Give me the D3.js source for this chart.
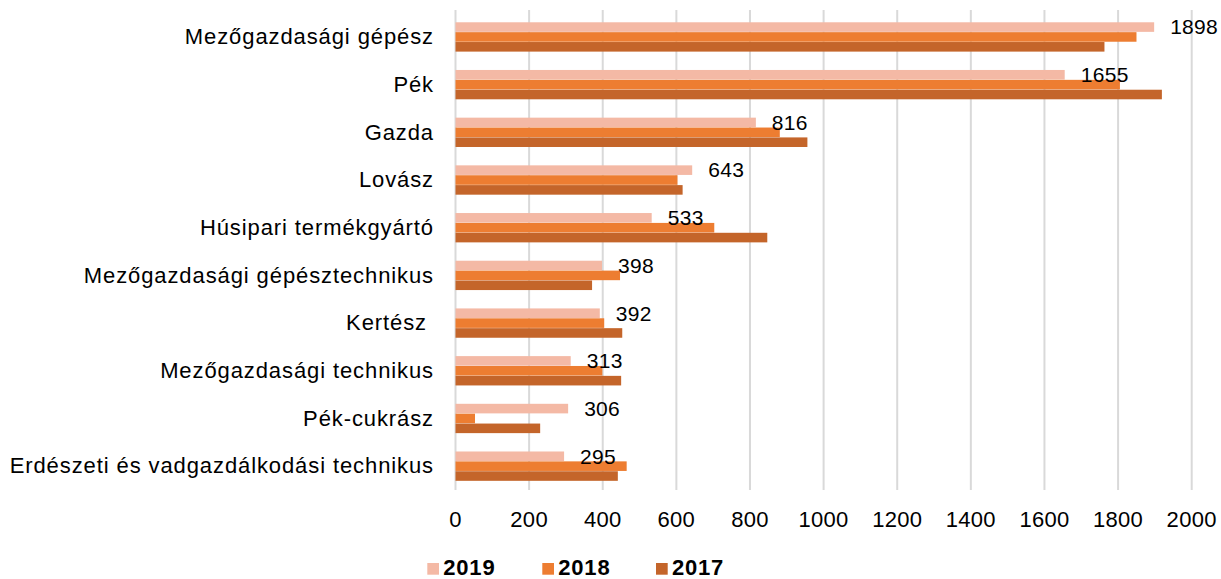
<!DOCTYPE html>
<html><head><meta charset="utf-8">
<script src="https://cdn.jsdelivr.net/npm/d3@7"></script>
<style>
body{margin:0;background:#fff;}
svg text{font-family:"Liberation Sans",Arial,sans-serif;fill:#000;}
</style></head>
<body><svg id="c" width="1221" height="579"></svg>
<script>
const categories = ["Mezőgazdasági gépész","Pék","Gazda","Lovász","Húsipari termékgyártó","Mezőgazdasági gépésztechnikus","Kertész ","Mezőgazdasági technikus","Pék-cukrász","Erdészeti és vadgazdálkodási technikus"];
const series = ["2019","2018","2017"];
const v2019 = [1898,1655,816,643,533,398,392,313,306,295];
const v2018 = [1850,1805,881,603,703,447,404,399,53,465];
const v2017 = [1763,1919,956,617,847,371,453,450,230,441];
const xTicks = [0,200,400,600,800,1000,1200,1400,1600,1800,2000];
const colors = ["#F4B9A5","#ED7D31","#C4652A"];

const values = [v2019,v2018,v2017];
const svg = d3.select("#c");
const L = 455.5, R = 1191.7, T = 13.1, B = 490;
const x = d3.scaleLinear().domain([0,2000]).range([L,R]);
const y = d3.scaleBand().domain(categories).range([T,B]).paddingInner(0.385).paddingOuter(0.1925);
const yi = d3.scaleBand().domain(series).range([0,y.bandwidth()]).paddingInner(0.03);

// gridlines
svg.append("g").selectAll("line").data(xTicks).join("line")
  .attr("x1",d=>x(d)).attr("x2",d=>x(d)).attr("y1",T-3).attr("y2",B)
  .attr("stroke","#d9d9d9").attr("stroke-width",2);

// bars
const groups = svg.append("g").selectAll("g").data(categories).join("g")
  .attr("transform",c=>`translate(0,${y(c)})`);
groups.selectAll("rect").data((c,i)=>series.map((s,j)=>({s,j,v:values[j][i]}))).join("rect")
  .attr("x",x(0)).attr("y",d=>yi(d.s)).attr("width",d=>x(d.v)-x(0)).attr("height",yi.bandwidth())
  .attr("fill",d=>colors[d.j]);

// data labels (2019)
svg.append("g").selectAll("text").data(categories).join("text")
  .attr("x",(c,i)=>x(v2019[i])+16).attr("y",c=>y(c)+yi("2019")+yi.bandwidth()/2)
  .attr("dy","0.35em").attr("font-size",21).style("letter-spacing","0.3px").text((c,i)=>v2019[i]);

// category labels
svg.append("g").selectAll("text").data(categories).join("text")
  .attr("x",434).attr("y",c=>y(c)+y.bandwidth()/2-0.5).attr("dy","0.35em")
  .attr("text-anchor","end").attr("font-size",22)
  .style("white-space","pre").style("letter-spacing","0.9px").text(c=>c);

// x tick labels
svg.append("g").selectAll("text").data(xTicks).join("text")
  .attr("x",d=>x(d)).attr("y",519).attr("dy","0.35em").attr("text-anchor","middle")
  .attr("font-size",22).style("letter-spacing","0.3px").text(d=>d);

// legend
const lx = [427.3,542.3,656];
const lg = svg.append("g").selectAll("g").data(series).join("g")
  .attr("transform",(s,i)=>`translate(${lx[i]},0)`);
lg.append("rect").attr("x",0).attr("y",563).attr("width",11.7).attr("height",11.7).attr("fill",(s,i)=>colors[i]);
lg.append("text").attr("x",16).attr("y",567).attr("dy","0.35em").attr("font-size",22).attr("font-weight","bold")
  .style("letter-spacing","0.8px").text(s=>s);
</script></body></html>
